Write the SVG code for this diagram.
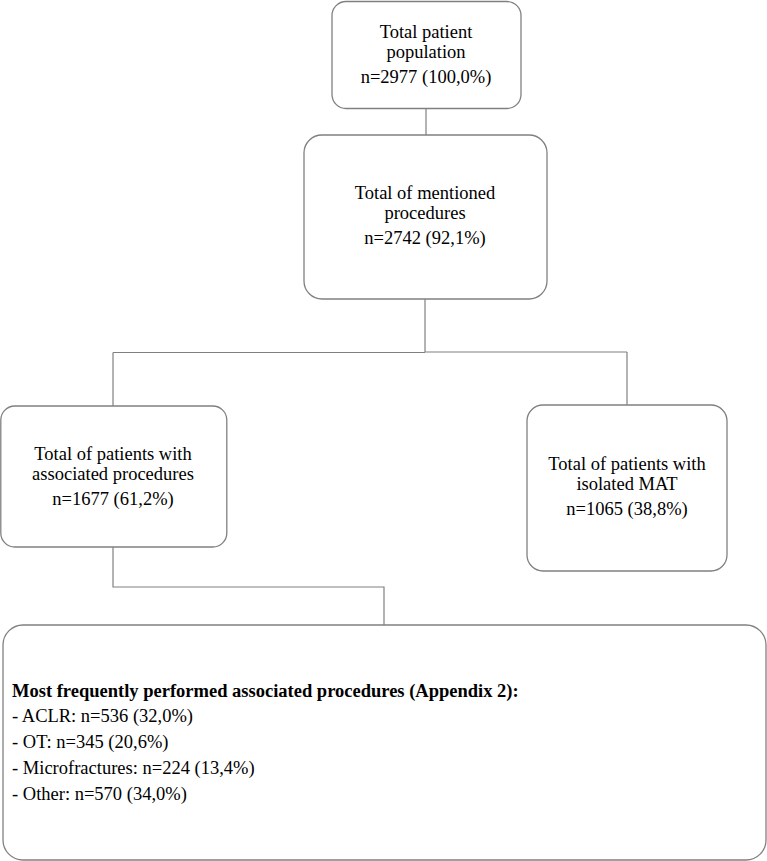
<svg xmlns="http://www.w3.org/2000/svg" width="767" height="861" viewBox="0 0 767 861">
<style>
.box{fill:#fff;stroke:#808080;stroke-width:1.3}
.conn{fill:none;stroke:#808080;stroke-width:1.2}
text{font-family:"Liberation Serif","Times New Roman",serif;font-size:18.5px;fill:#000}
.c{text-anchor:middle}
.b{font-weight:bold}
</style>
<rect width="767" height="861" fill="#fff"/>
<g id="connectors">
<path class="conn" d="M426,109 V135"/>
<path class="conn" d="M425,299 V352"/>
<path class="conn" d="M113,352.5 H425 M425,352 H627"/>
<path class="conn" d="M113,352.5 V406"/>
<path class="conn" d="M627,352 V405"/>
<path class="conn" d="M113,547 V587 H384 V625"/>
</g>
<g id="node-total">
<rect class="box" x="332" y="1.5" width="189" height="107" rx="14"/>
<text class="c" x="426" y="38">Total patient</text>
<text class="c" x="426" y="58">population</text>
<text class="c" x="426" y="83">n=2977 (100,0%)</text>
</g>
<g id="node-mentioned">
<rect class="box" x="304" y="135" width="243" height="164" rx="18"/>
<text class="c" x="425" y="199">Total of mentioned</text>
<text class="c" x="425" y="219">procedures</text>
<text class="c" x="425" y="244">n=2742 (92,1%)</text>
</g>
<g id="node-associated">
<rect class="box" x="0.8" y="406" width="226" height="141" rx="14"/>
<text class="c" x="113" y="460">Total of patients with</text>
<text class="c" x="113" y="480">associated procedures</text>
<text class="c" x="113" y="505">n=1677 (61,2%)</text>
</g>
<g id="node-isolated">
<rect class="box" x="527" y="405" width="200" height="166" rx="16"/>
<text class="c" x="627" y="470">Total of patients with</text>
<text class="c" x="627" y="490">isolated MAT</text>
<text class="c" x="627" y="515">n=1065 (38,8%)</text>
</g>
<g id="node-procedures">
<rect class="box" x="3" y="625" width="763" height="235" rx="20"/>
<text class="b" x="12" y="697">Most frequently performed associated procedures (Appendix 2):</text>
<text x="12" y="722">- ACLR: n=536 (32,0%)</text>
<text x="12" y="748">- OT: n=345 (20,6%)</text>
<text x="12" y="774">- Microfractures: n=224 (13,4%)</text>
<text x="12" y="800">- Other: n=570 (34,0%)</text>
</g>
</svg>
